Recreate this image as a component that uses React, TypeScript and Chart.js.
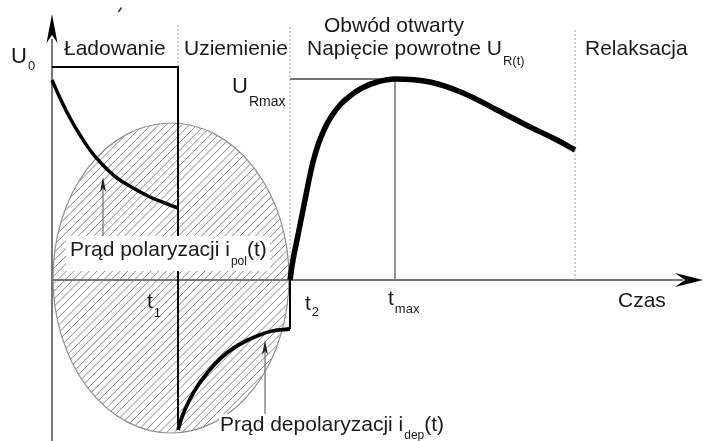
import React, { useEffect, useRef } from "react";
import { Chart, registerables } from "chart.js";

Chart.register(...registerables);

// Time and signal are in arbitrary units; the axes cross at (0, 0).
const T1 = 12.6; // end of charging
const T2 = 23.8; // end of grounding
const T_MAX = 34.3; // time of the return-voltage peak
const T_RELAX = 52.3; // start of relaxation
const U0 = 21.3; // charging voltage
const U_RMAX = 20.1; // return-voltage peak

// Polarization current i_pol(t) during charging
const polTime = [0, 0.8, 1.8, 2.8, 3.8, 4.8, 6.5, 8.3, 9.8, 11.3, 12.6];
const polCurrent = [20.0, 18.2, 16.2, 14.5, 13.0, 11.8, 10.2, 9.1, 8.3, 7.7, 7.2];

// Depolarization current i_dep(t) during grounding
const depTime = [12.6, 13.0, 13.6, 14.3, 15.2, 16.3, 17.6, 19.0, 20.5, 22.0, 23.8];
const depCurrent = [-15.0, -13.7, -12.3, -11.0, -9.7, -8.4, -7.2, -6.3, -5.6, -5.1, -4.9];

// Return voltage U_R(t) with the circuit open
const recTime = [
  23.8, 24.1, 24.5, 24.9, 25.3, 25.7, 26.1, 26.6, 27.2, 27.9, 28.8, 29.8, 31.0, 32.5, 34.3,
  37.8, 41.1, 44.5, 47.8, 50.3, 52.3,
];
const recVoltage = [
  0, 2.0, 4.0, 6.0, 8.0, 10.0, 11.8, 13.5, 15.0, 16.3, 17.5, 18.4, 19.2, 19.8, 20.1,
  19.8, 18.7, 17.0, 15.3, 14.1, 13.0,
];

// Hatched region of the polarization/depolarization charge
const CHARGE_CX = 11.9;
const CHARGE_CY = 0.2;
const CHARGE_RX = 11.8;
const CHARGE_RY = 15.5;

const X_MIN = -5.2;
const X_MAX = 65.3;
const Y_MIN = -16.1;
const Y_MAX = 28.0;
const X_ARROW = 65.1;
const Y_ARROW = 26.6;

const FONT = '"Liberation Sans", Arial, Helvetica, sans-serif';
const TEXT = "#1a1a1a";

const pts = (xs: number[], ys: number[]) => xs.map((x, i) => ({ x, y: ys[i] }));

function line(data: { x: number; y: number }[], color: string, width: number, extra: any = {}) {
  return {
    type: "line" as const,
    data,
    borderColor: color,
    borderWidth: width,
    pointRadius: 0,
    fill: false,
    tension: 0,
    borderCapStyle: "butt",
    borderJoinStyle: "miter",
    ...extra,
  };
}

function drawLabel(
  ctx: CanvasRenderingContext2D,
  x: number,
  y: number,
  main: string,
  sub = "",
  tail = "",
  size = 21,
  subSize = 13,
  subDrop = 10
) {
  ctx.fillStyle = TEXT;
  ctx.textAlign = "left";
  ctx.textBaseline = "alphabetic";
  ctx.font = `${size}px ${FONT}`;
  ctx.fillText(main, x, y);
  let cx = x + ctx.measureText(main).width + 1;
  if (sub) {
    ctx.font = `${subSize}px ${FONT}`;
    ctx.fillText(sub, cx, y + subDrop);
    cx += ctx.measureText(sub).width;
  }
  if (tail) {
    ctx.font = `${size}px ${FONT}`;
    ctx.fillText(tail, cx, y);
  }
}

function arrowHead(
  ctx: CanvasRenderingContext2D,
  tipX: number,
  tipY: number,
  dx: number,
  dy: number,
  len: number,
  half: number,
  notch: number
) {
  // (dx, dy) is the unit direction of the arrow
  const px = -dy;
  const py = dx;
  ctx.beginPath();
  ctx.moveTo(tipX, tipY);
  ctx.lineTo(tipX - dx * len + px * half, tipY - dy * len + py * half);
  ctx.lineTo(tipX - dx * notch, tipY - dy * notch);
  ctx.lineTo(tipX - dx * len - px * half, tipY - dy * len - py * half);
  ctx.closePath();
  ctx.fill();
}

const hatchPlugin = {
  id: "chargeHatch",
  beforeDatasetsDraw(chart: any) {
    const { ctx } = chart;
    const xs = chart.scales.x;
    const ys = chart.scales.y;
    const cx = xs.getPixelForValue(CHARGE_CX);
    const cy = ys.getPixelForValue(CHARGE_CY);
    const rx = Math.abs(xs.getPixelForValue(CHARGE_CX + CHARGE_RX) - cx);
    const ry = Math.abs(ys.getPixelForValue(CHARGE_CY + CHARGE_RY) - cy);
    ctx.save();
    ctx.beginPath();
    ctx.ellipse(cx, cy, rx, ry, 0, 0, Math.PI * 2);
    ctx.clip();
    ctx.strokeStyle = "#858585";
    ctx.lineWidth = 1;
    ctx.beginPath();
    for (let d = cx - rx - 2 * ry - 10; d < cx + rx + 10; d += 7.7) {
      ctx.moveTo(d, cy + ry + 2);
      ctx.lineTo(d + 2 * ry + 4, cy - ry - 2);
    }
    ctx.stroke();
    ctx.restore();
    ctx.save();
    ctx.strokeStyle = "#909090";
    ctx.lineWidth = 1.2;
    ctx.beginPath();
    ctx.ellipse(cx, cy, rx, ry, 0, 0, Math.PI * 2);
    ctx.stroke();
    ctx.restore();
  },
  afterDatasetsDraw(chart: any) {
    const { ctx } = chart;
    const xs = chart.scales.x;
    const ys = chart.scales.y;
    const px = (v: number) => xs.getPixelForValue(v);
    const py = (v: number) => ys.getPixelForValue(v);

    ctx.save();
    // white panels behind the current labels
    ctx.fillStyle = "#ffffff";
    ctx.fillRect(66, 236, 204, 35);
    ctx.fillRect(219, 414, 245, 27);

    // axis arrow heads
    ctx.fillStyle = "#000000";
    arrowHead(ctx, px(0), py(Y_ARROW), 0, -1, 29, 5.5, 21);
    arrowHead(ctx, px(X_ARROW), py(0), 1, 0, 28, 7, 18);

    // pointers to the current curves
    ctx.strokeStyle = "#6e6e6e";
    ctx.lineWidth = 1.2;
    ctx.beginPath();
    ctx.moveTo(103, 236);
    ctx.lineTo(103, 186);
    ctx.moveTo(265, 414);
    ctx.lineTo(265, 348);
    ctx.stroke();
    ctx.fillStyle = "#222";
    arrowHead(ctx, 103, 177, 0, -1, 15, 3, 11);
    arrowHead(ctx, 265, 340, 0, -1, 15, 3, 11);

    // small accent stroke at the top
    ctx.strokeStyle = "#333";
    ctx.lineWidth = 1.5;
    ctx.beginPath();
    ctx.moveTo(118.5, 12);
    ctx.lineTo(121.5, 7.5);
    ctx.stroke();

    // labels
    drawLabel(ctx, 11, 63, "U", "0", "", 22, 13, 7);
    drawLabel(ctx, 64, 55, "Ładowanie");
    drawLabel(ctx, 184, 55, "Uziemienie");
    drawLabel(ctx, 324, 32, "Obwód otwarty");
    drawLabel(ctx, 307, 55, "Napięcie powrotne U", "R(t)", "", 21, 13, 10);
    drawLabel(ctx, 585, 55, "Relaksacja");
    drawLabel(ctx, 232, 93, "U", "Rmax", "", 22, 14, 13);
    drawLabel(ctx, 147, 308, "t", "1", "", 21, 13, 9);
    drawLabel(ctx, 305, 310, "t", "2", "", 21, 13, 6);
    drawLabel(ctx, 388, 305, "t", "max", "", 21, 13, 8);
    drawLabel(ctx, 618, 307, "Czas");
    drawLabel(ctx, 70, 256, "Prąd polaryzacji i", "pol", "(t)", 21, 12, 9);
    drawLabel(ctx, 220, 431, "Prąd depolaryzacji i", "dep", "(t)", 21, 12, 8);
    ctx.restore();
  },
};

export default function App() {
  const canvasRef = useRef<HTMLCanvasElement | null>(null);

  useEffect(() => {
    const canvas = canvasRef.current;
    if (!canvas) return;
    const lastDep = depCurrent[depCurrent.length - 1];
    const chart = new Chart(canvas, {
      type: "line",
      data: {
        datasets: [
          line(pts(recTime, recVoltage), "#000000", 5.5, { tension: 0.4 }),
          line(pts(polTime, polCurrent), "#000000", 3.5, { tension: 0.4 }),
          line(pts(depTime, depCurrent), "#000000", 3.8, { tension: 0.4 }),
          line(pts([T2, T2], [lastDep, 0]), "#000000", 2),
          line(pts([0, T1, T1], [U0, U0, depCurrent[0]]), "#000000", 2),
          line(pts([T2, T_MAX], [U_RMAX, U_RMAX]), "#737373", 2),
          line(pts([T_MAX, T_MAX], [U_RMAX, 0]), "#737373", 1.5),
          line(pts([T1, T1], [25.5, U0]), "#a0a0a0", 1, { borderDash: [2, 2] }),
          line(pts([T2, T2], [25.3, 0]), "#a0a0a0", 1, { borderDash: [2, 2] }),
          line(pts([T_RELAX, T_RELAX], [25.0, 0]), "#a0a0a0", 1, { borderDash: [2, 2] }),
          line(pts([0, X_ARROW - 2], [0, 0]), "#777777", 2),
          line(pts([0, 0], [Y_MIN, Y_ARROW - 2.5]), "#777777", 2),
        ] as any,
      },
      options: {
        responsive: false,
        animation: false,
        devicePixelRatio: 1,
        events: [],
        layout: { padding: 0 },
        plugins: {
          legend: { display: false },
          tooltip: { enabled: false },
        },
        scales: {
          x: { type: "linear", min: X_MIN, max: X_MAX, display: false },
          y: { type: "linear", min: Y_MIN, max: Y_MAX, display: false },
        },
      },
      plugins: [hatchPlugin],
    });
    return () => chart.destroy();
  }, []);

  return (
    <div style={{ position: "absolute", left: 0, top: 0, width: 705, height: 441, background: "#ffffff" }}>
      <canvas ref={canvasRef} width={705} height={441} />
    </div>
  );
}
